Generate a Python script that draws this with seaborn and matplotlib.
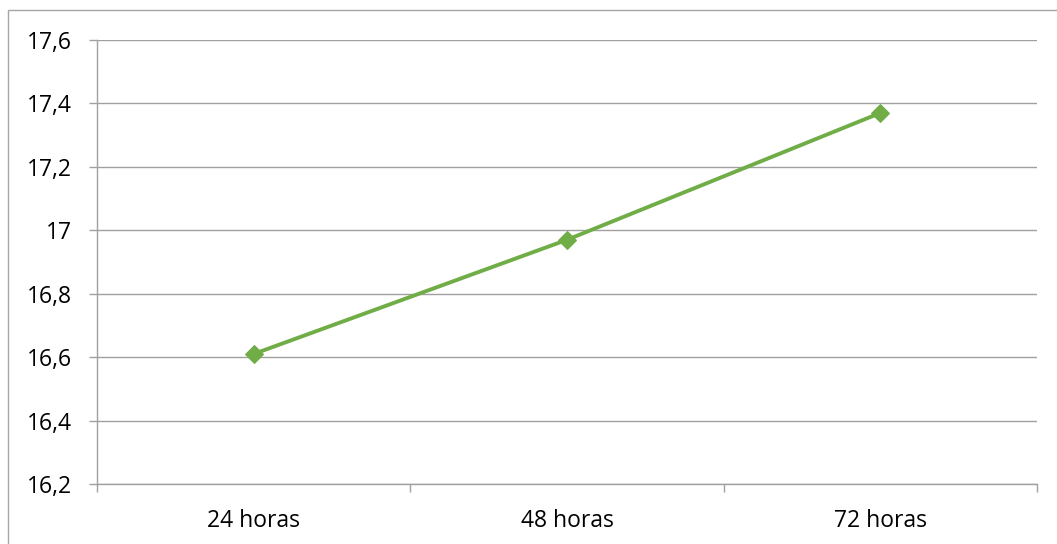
import matplotlib
matplotlib.use("Agg")
import matplotlib.pyplot as plt
import matplotlib.patches as mpatches
from matplotlib.ticker import FixedLocator
import seaborn as sns
import pandas as pd

categories = ["24 horas", "48 horas", "72 horas"]
values = [16.61, 16.97, 17.37]
y_ticks = [16.2, 16.4, 16.6, 16.8, 17.0, 17.2, 17.4, 17.6]
y_tick_labels = ["16,2", "16,4", "16,6", "16,8", "17", "17,2", "17,4", "17,6"]

sns.set_style("white")
plt.rcParams["font.family"] = ["Open Sans", "DejaVu Sans"]

W, H = 1057, 544
fig = plt.figure(figsize=(W / 100, H / 100), dpi=100)
fig.patch.set_facecolor("white")

# chart frame
fig.add_artist(mpatches.Rectangle((8 / W, -0.1), 1.2, 1 - 10.5 / H + 0.1,
                                  transform=fig.transFigure, fill=False,
                                  edgecolor="#a6a6a6", linewidth=1.0))

ax = fig.add_axes([97 / W, (H - 484) / H, (1037 - 97) / W, (484 - 40) / H])

df = pd.DataFrame({"pos": range(len(categories)), "valor": values})
sns.lineplot(data=df, x="pos", y="valor", ax=ax, color="#70ad47",
             linewidth=2.8, marker="D", markersize=9.5,
             markeredgecolor="#70ad47", markerfacecolor="#70ad47")

ax.set_xlim(-0.5, len(categories) - 0.5)
ax.set_ylim(16.2, 17.6)

grid_c = "#a0a0a0"
for yv in y_ticks:
    ax.axhline(yv, color=grid_c, linewidth=1.0, zorder=0)

ax.set_yticks(y_ticks)
ax.set_yticklabels(y_tick_labels)
ax.set_xticks(range(len(categories)))
ax.set_xticklabels(categories)
ax.xaxis.set_minor_locator(FixedLocator([i - 0.5 for i in range(len(categories) + 1)]))

ax.tick_params(axis="y", which="major", length=6, width=1.0, color=grid_c,
               pad=12, labelsize=16.5, labelcolor="#000000", left=True)
ax.tick_params(axis="x", which="major", length=0, pad=18,
               labelsize=16.5, labelcolor="#000000")
ax.tick_params(axis="x", which="minor", length=6, width=1.0, color=grid_c,
               bottom=True)

for side in ["top", "right"]:
    ax.spines[side].set_visible(False)
for side in ["left", "bottom"]:
    ax.spines[side].set_color(grid_c)
    ax.spines[side].set_linewidth(1.0)

ax.set_xlabel("")
ax.set_ylabel("")

fig.savefig("out.png", dpi=100, facecolor="white")
